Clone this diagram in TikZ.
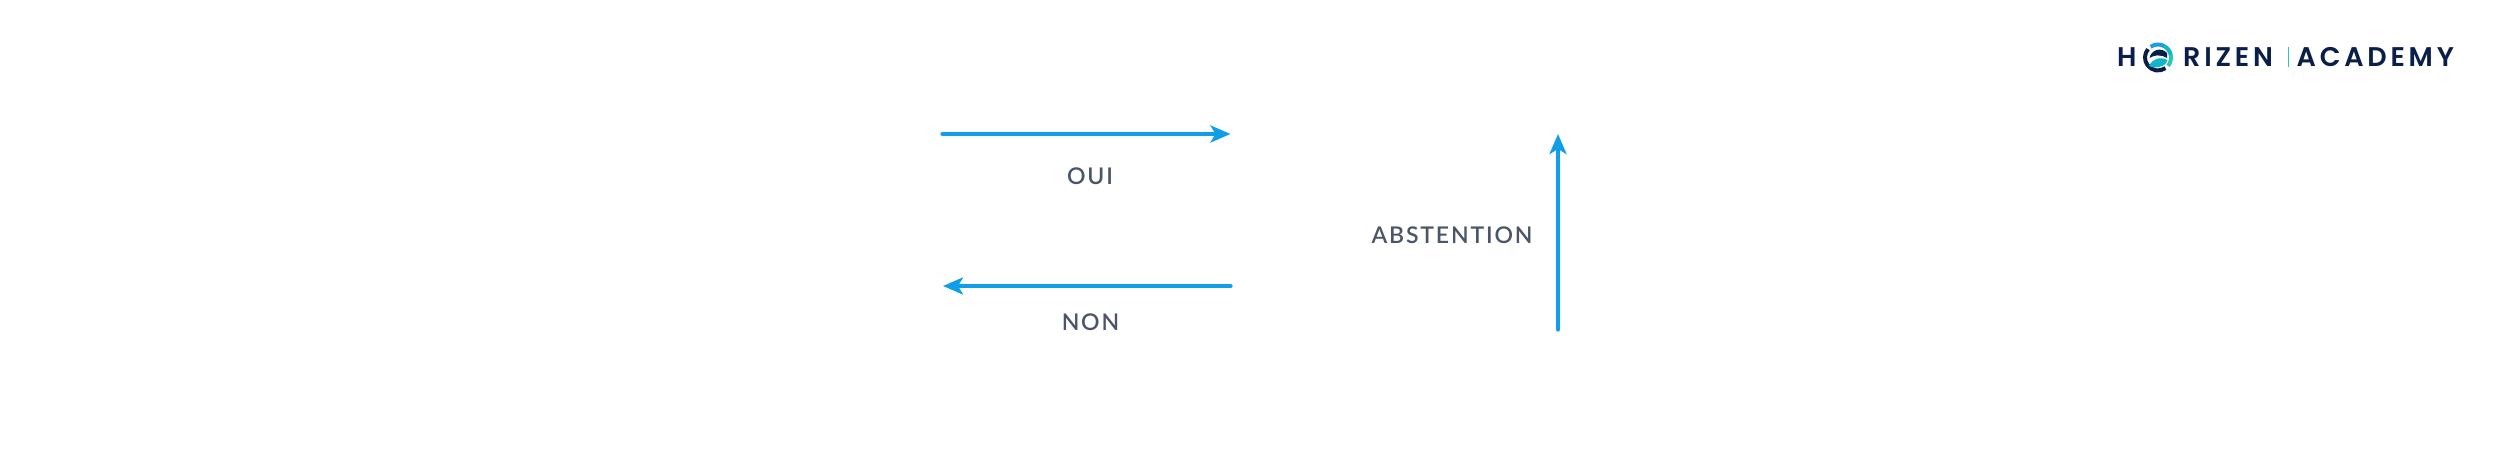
\documentclass[tikz,border=0pt]{standalone}
\usepackage{fontspec}
\setmainfont{Lato}
\newfontfamily\labelfont[LetterSpace=8]{Lato Semibold}
\newfontfamily\logofont[LetterSpace=14]{Poppins SemiBold}
\usetikzlibrary{arrows.meta}
\definecolor{arrowblue}{HTML}{0F9FE8}
\definecolor{labelgrey}{HTML}{4A5568}
\definecolor{navy}{HTML}{0A1E4A}
\definecolor{logoteal}{HTML}{12B5C9}
\definecolor{logoblue}{HTML}{1A9FE0}
\definecolor{logogreen}{HTML}{2CC9A8}
\tikzset{
  flow/.style={draw=arrowblue,line width=4.4pt,line cap=round,-{Stealth[length=20pt,width=17pt,inset=5pt]}},
  lbl/.style={text=labelgrey,font=\labelfont\fontsize{23}{23}\selectfont,inner sep=0pt,anchor=center},
  logotxt/.style={text=navy,font=\logofont\fontsize{27}{27}\selectfont,inner sep=0pt,anchor=base west},
}
\begin{document}
\begin{tikzpicture}[x=1pt,y=-1pt]
\useasboundingbox (0,0) rectangle (2501,473);
\coordinate (oa) at (942.5,134);
\coordinate (ob) at (1230.5,134);
\coordinate (na) at (1230.5,286);
\coordinate (nb) at (943,286);
\coordinate (aa) at (1558,329.5);
\coordinate (ab) at (1558,134);
\draw[flow] (oa) -- (ob);
\draw[flow] (na) -- (nb);
\draw[flow] (aa) -- (ab);
\node[lbl] (oui) at (1090,176) {OUI};
\node[lbl] (non) at (1090.5,322) {NON};
\node[lbl] (abs) at (1452,235) {ABSTENTION};
\node[logotxt] (h) at (2117,67) {H};
\node[logotxt] (rizen) at (2183,67) {RIZEN};
\node[logotxt] (acad) at (2296.5,67) {ACADEMY};
\fill[logogreen] (2287.5,47) rectangle (2288.8,67);
\draw[navy,line width=4pt] (2158,57.5) ++(55:13) arc[start angle=55,end angle=220,radius=13];
\draw[logogreen,line width=4pt] (2158,57.5) ++(40:13) arc[start angle=40,end angle=-10,radius=13];
\draw[logoteal,line width=4pt] (2158,57.5) ++(-10:13) arc[start angle=-10,end angle=-60,radius=13];
\draw[logoblue,line width=4pt] (2158,57.5) ++(-60:13) arc[start angle=-60,end angle=-125,radius=13];
\fill[navy] (2149.5,58) .. controls (2151,50) and (2161,46.5) .. (2167,53) -- (2167,58) .. controls (2160,54) and (2154,55) .. cycle;
\fill[logoteal] (2149,66) .. controls (2152,59) and (2160,56) .. (2167.5,60) .. controls (2166,67) and (2155,69) .. cycle;
\end{tikzpicture}
\end{document}
